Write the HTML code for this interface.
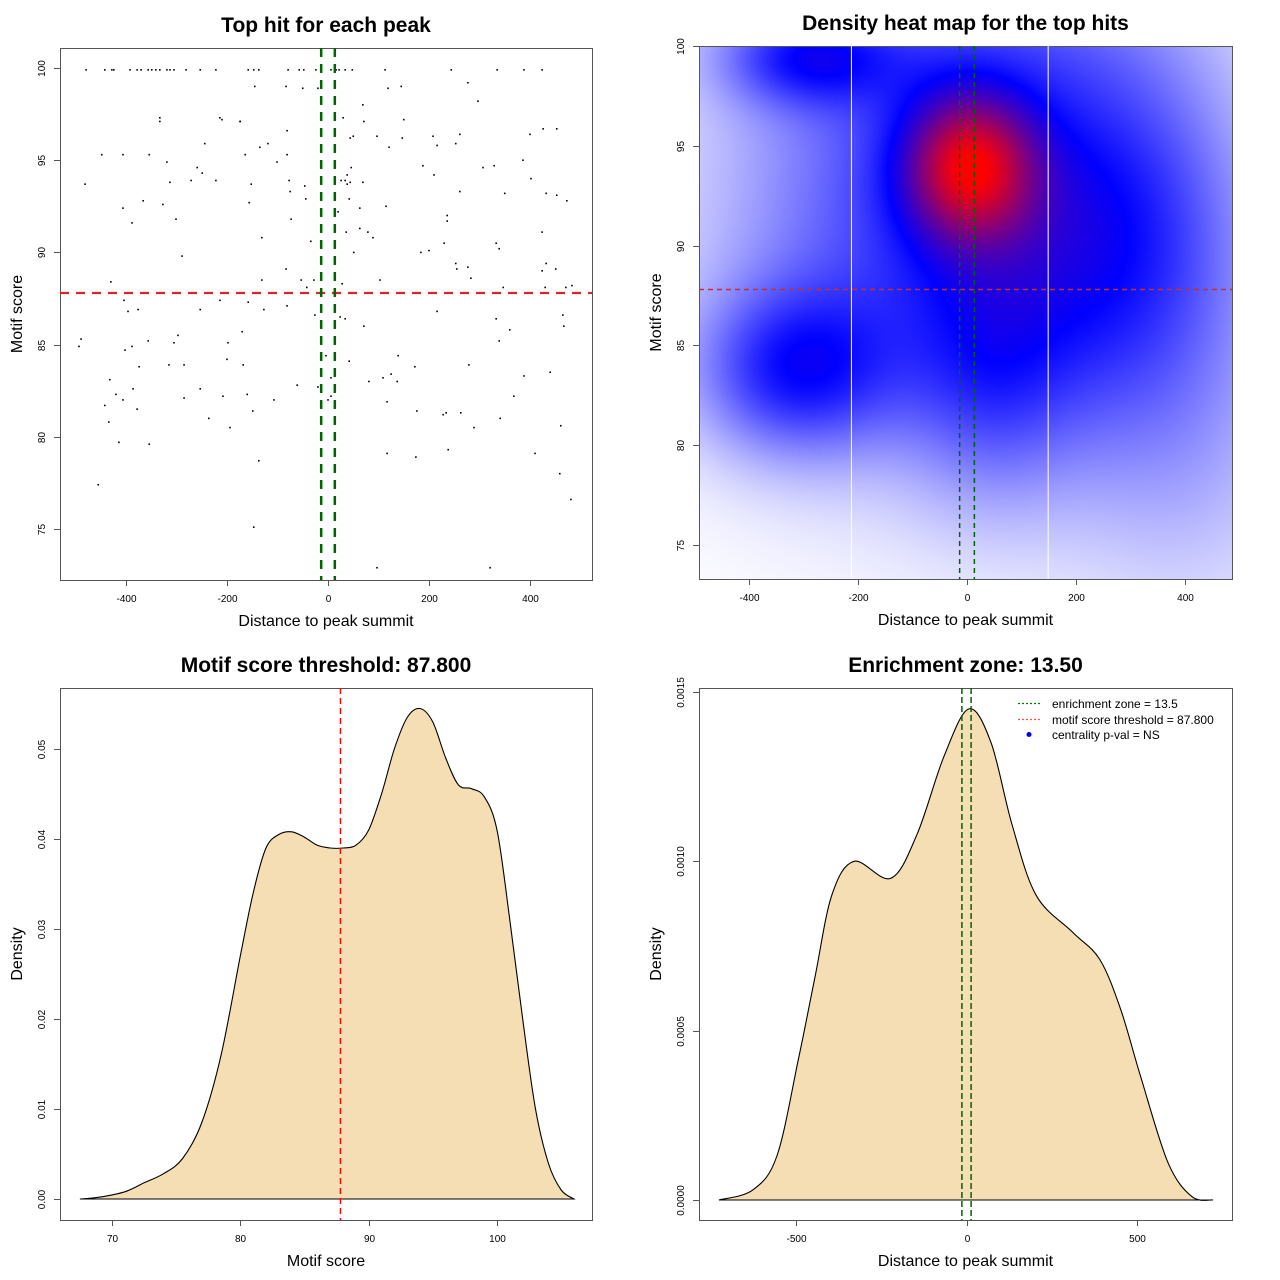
<!DOCTYPE html>
<html><head><meta charset="utf-8">
<style>
html,body{margin:0;padding:0;background:#fff;width:1280px;height:1280px;overflow:hidden}
#heat{position:absolute;left:699px;top:46px;z-index:0}
#root{position:absolute;left:0;top:0;z-index:1}
text{font-family:"Liberation Sans",Arial,sans-serif}
</style></head>
<body>
<canvas id="heat" width="533" height="533"></canvas>
<svg id="root" width="1280" height="1280" xmlns="http://www.w3.org/2000/svg"></svg>
<script>
// ---------- DATA ----------
const topRowX = [-479,-442,-428,-424,-392,-378,-370,-356,-349,-341,-333,-319,-313,-305,-281,-253,-222,-158,-147,-137,-79,-57,-48,-24,6,16,22,34,48,113,244,335,388,424];
const hitX = [-145,-83,-50,-20,-333,-214,-174,-81,-448,-406,-354,-481,-319,-259,-249,-271,-222,-313,-366,-327,-406,-388,-301,-244,-210,-174,-333,-135,-119,-164,-101,-81,-152,-77,-75,-46,-44,-156,-73,-131,-34,-289,-83,-131,-53,-28,-430,-42,
 -404,-396,-376,-253,-214,-158,-127,-81,-26,-489,-493,-402,-388,-356,-297,-305,-198,-170,-374,-315,-285,-200,-168,-432,-420,-406,-386,-285,-253,-208,-160,-107,-61,-20,-442,-378,-149,-236,-434,-194,-414,-354,-137,-455,-147,
 119,145,277,297,69,30,71,150,426,453,44,50,97,147,208,261,400,121,216,253,386,46,188,307,329,402,38,210,26,34,44,69,38,261,350,432,453,473,42,63,115,20,236,236,36,63,79,89,424,51,184,200,230,333,339,253,255,277,432,424,451,283,103,28,347,430,471,483,307,
 216,24,34,333,465,467,71,360,339,-4,42,139,172,279,440,125,109,137,81,388,6,368,0,6,117,176,228,234,263,341,461,289,117,174,238,410,459,481,97,321];
const hitY = [99.0,99.0,98.9,98.9,97.1,97.3,97.1,96.6,95.3,95.3,95.3,93.7,94.9,94.6,94.3,93.9,93.9,93.8,92.8,92.6,92.4,91.6,91.8,95.9,97.2,97.1,97.3,95.7,95.9,95.3,94.9,95.3,93.7,93.9,93.3,93.6,92.9,92.7,91.8,90.8,90.6,89.8,89.1,88.5,88.5,88.5,88.4,88.1,
 87.4,86.8,86.9,86.9,87.4,87.3,86.9,87.1,86.6,85.3,84.9,84.7,84.9,85.2,85.5,85.1,85.1,85.7,83.8,83.9,83.9,84.2,83.9,83.1,82.3,82.0,82.6,82.1,82.6,82.2,82.3,82.0,82.8,82.7,81.7,81.5,81.4,81.0,80.8,80.5,79.7,79.6,78.7,77.4,75.1,
 98.9,99.0,99.2,98.2,98.0,97.3,97.1,97.2,96.7,96.7,96.2,96.3,96.3,96.2,96.3,96.4,96.4,95.7,95.8,95.9,95.0,94.6,94.7,94.6,94.7,94.0,94.2,94.2,93.9,93.9,93.8,93.8,93.7,93.3,93.2,93.2,93.1,92.8,92.9,92.4,92.5,92.2,92.0,91.7,91.1,91.3,91.1,90.8,91.1,90.0,90.0,90.1,90.5,90.5,90.2,89.4,89.1,89.2,89.4,89.0,89.1,88.6,88.5,88.3,88.1,88.1,88.1,88.2,87.8,
 86.8,86.5,86.4,86.4,86.6,86.0,86.0,85.8,85.2,84.4,84.1,84.4,83.8,83.9,83.5,83.4,83.2,83.0,83.0,83.3,83.2,82.2,82.0,82.2,81.9,81.4,81.2,81.3,81.3,81.0,80.6,80.5,79.1,78.9,79.3,79.1,78.0,76.6,72.9,72.9];
const topRowY = 99.9;
const scoreThreshold = 87.8;
const enrichZone = 13.5;

const scoreX = [67.5,69,71,72.5,74,75.5,77,78.5,80,81,82,83,84,85,86,87,88,89,90,91,92,93,94,95,96,97,98,99,100,101,102,103,104,105,106];
const scoreD = [0,0.0002,0.0008,0.0018,0.0028,0.0045,0.0085,0.016,0.027,0.034,0.039,0.0405,0.0408,0.0402,0.0393,0.039,0.039,0.0393,0.041,0.045,0.050,0.0535,0.0545,0.053,0.049,0.046,0.0456,0.0447,0.041,0.031,0.020,0.010,0.004,0.001,0];

const distX = [-726,-626,-556,-494,-444,-395,-330,-222,-145,-66,7,72,133,204,312,391,453,512,591,661,723];
const distD = [0,0.00003,0.00013,0.00041,0.00066,0.00090,0.00100,0.00095,0.00108,0.00131,0.00145,0.00135,0.00111,0.00090,0.00079,0.00071,0.00056,0.00036,0.00011,0.00001,0];

const ticksTL_X = [-400,-200,0,200,400];
const ticksTL_Y = [75,80,85,90,95,100];
const ticksBL_X = [70,80,90,100];
const ticksBL_Y = [0,0.01,0.02,0.03,0.04,0.05];
const ticksBR_X = [-500,0,500];
const ticksBR_Y = [0,0.0005,0.001,0.0015];
const ticksBR_YLab = ["0.0000","0.0005","0.0010","0.0015"];
const ticksBL_YLab = ["0.00","0.01","0.02","0.03","0.04","0.05"];
const heatGridX = [-213,148];

// ---------- HELPERS ----------
const NS="http://www.w3.org/2000/svg";
const root=document.getElementById('root');
function el(tag,attrs,parent){const e=document.createElementNS(NS,tag);for(const k in attrs)e.setAttribute(k,attrs[k]);(parent||root).appendChild(e);return e;}
function lin(d0,d1,p0,p1){return v=>p0+(v-d0)*(p1-p0)/(d1-d0);}
function txt(s,x,y,size,opts,parent){const t=el('text',Object.assign({x:x,y:y,'font-size':size,'text-anchor':'middle',fill:'#000'},opts||{}),parent);t.textContent=s;return t;}

function panel(name,box,sx,sy,xt,yt,ylabs,title,xlab,ylab){
  const g=el('g',{});
  
  
  const fr=el('rect',{x:box.l+0.5,y:box.t+0.5,width:box.r-box.l,height:box.b-box.t,fill:'none',stroke:'#555','stroke-width':1},g);
  
  const xa=el('g',{},g);
  xt.forEach(v=>{const x=Math.round(sx(v))+0.5;el('line',{x1:x,x2:x,y1:box.b,y2:box.b+6,stroke:'#555'},xa);
    const t=txt(String(v),x,box.b+22,10,{},xa);});
  const ya=el('g',{},g);
  yt.forEach((v,i)=>{const y=Math.round(sy(v))+0.5;el('line',{x1:box.l-6,x2:box.l,y1:y,y2:y,stroke:'#555'},ya);
    const lx=box.l-15;const t=txt(ylabs?ylabs[i]:String(v),lx,y,10,{transform:`rotate(-90 ${lx} ${y})`},ya);
    });
  const cx=(box.l+box.r)/2;
  const tt=txt(title,cx,box.t-16,21,{'font-weight':'bold'},g);
  const xl=txt(xlab,cx,box.b+46,16,{},g);
  const cy=(box.t+box.b)/2;const yx=box.l-38;
  const yl=txt(ylab,yx,cy,16,{transform:`rotate(-90 ${yx} ${cy})`},g);
  return g;
}
function smoothPath(pts){let d=`M${pts[0][0]},${pts[0][1]}`;
  for(let i=0;i<pts.length-1;i++){const p0=pts[Math.max(0,i-1)],p1=pts[i],p2=pts[i+1],p3=pts[Math.min(pts.length-1,i+2)];
    const c1=[p1[0]+(p2[0]-p0[0])/6,p1[1]+(p2[1]-p0[1])/6],c2=[p2[0]-(p3[0]-p1[0])/6,p2[1]-(p3[1]-p1[1])/6];
    d+=` C${c1[0].toFixed(1)},${c1[1].toFixed(1)} ${c2[0].toFixed(1)},${c2[1].toFixed(1)} ${p2[0].toFixed(1)},${p2[1].toFixed(1)}`;}
  return d;}

// ---------- PANEL 1: scatter ----------
const b1={l:60,r:592,t:48,b:580};
const sx1=lin(0,400,328,530), sy1=lin(75,100,529,68);
const g1=panel('top-hit-scatter',b1,sx1,sy1,ticksTL_X,ticksTL_Y,null,'Top hit for each peak','Distance to peak summit','Motif score');
const pts1=el('g',{},g1);
topRowX.forEach(v=>{const r=el('rect',{x:sx1(v)-0.8,y:sy1(topRowY)-0.8,width:1.6,height:1.6,fill:'#000'},pts1);
  });
hitX.forEach((v,i)=>{const r=el('rect',{x:sx1(v)-0.8,y:sy1(hitY[i])-0.8,width:1.6,height:1.6,fill:'#000'},pts1);
  });
let l;
l=el('line',{x1:b1.l,x2:b1.r,y1:sy1(scoreThreshold),y2:sy1(scoreThreshold),stroke:'#d62728','stroke-width':2.2,'stroke-dasharray':'9,7'},g1);

[-enrichZone,enrichZone].forEach(v=>{const q=el('line',{x1:sx1(v),x2:sx1(v),y1:b1.t,y2:b1.b,stroke:'#006400','stroke-width':2.5,'stroke-dasharray':'9,7'},g1);
  });

// ---------- PANEL 2: heatmap ----------
const b2={l:699,r:1232,t:46,b:579};
const sx2=lin(0,400,967,1185), sy2=lin(75,100,545,46);
const g2=panel('density-heatmap-panel',b2,sx2,sy2,ticksTL_X,ticksTL_Y,null,'Density heat map for the top hits','Distance to peak summit','Motif score');
// heat field blobs (panel-relative smoothing kernels)
const blobs=[[270,119,46,52,0.55],[260,150,160,170,0.42],[430,200,90,140,0.25],[95,325,70,60,0.36],[105,10,60,35,0.3],[250,0,150,40,0.05],[290,335,60,90,0.18],[500,420,90,120,0.1]];
(function(){const c=document.getElementById('heat').getContext('2d');const W=533,H=533;const im=c.createImageData(W,H);
  for(let y=0;y<H;y++)for(let x=0;x<W;x++){let f=0;for(const b of blobs){const dx=(x-b[0])/b[2],dy=(y-b[1])/b[3];f+=b[4]*Math.exp(-0.5*(dx*dx+dy*dy));}
    f=Math.min(1,f);let r,g,bl;if(f<=0.5){const k=f/0.5;r=g=255*(1-k);bl=255;}else{const k=(f-0.5)/0.5;r=255*k;g=0;bl=255*(1-k);}
    const i=(y*W+x)*4;im.data[i]=r;im.data[i+1]=g;im.data[i+2]=bl;im.data[i+3]=255;}
  c.putImageData(im,0,0);})();
heatGridX.forEach(v=>{const q=el('line',{x1:sx2(v)+0.5,x2:sx2(v)+0.5,y1:b2.t,y2:b2.b,stroke:'#fff','stroke-width':1},g2);
  });
l=el('line',{x1:b2.l,x2:b2.r,y1:sy2(scoreThreshold),y2:sy2(scoreThreshold),stroke:'#c03030','stroke-width':1.5,'stroke-dasharray':'5,4'},g2);

[-enrichZone,enrichZone].forEach(v=>{const q=el('line',{x1:sx2(v),x2:sx2(v),y1:b2.t,y2:b2.b,stroke:'#006400','stroke-width':1.5,'stroke-dasharray':'5,4'},g2);
  });

// ---------- PANEL 3: motif score density ----------
const b3={l:60,r:592,t:688,b:1220};
const sx3=lin(70,100,112,497), sy3=lin(0,0.05,1199,749);
const g3=panel('motif-score-density',b3,sx3,sy3,ticksBL_X,ticksBL_Y,ticksBL_YLab,'Motif score threshold: 87.800','Motif score','Density');
let p3=scoreX.map((v,i)=>[sx3(v),sy3(scoreD[i])]);
l=el('path',{d:smoothPath(p3)+' Z',fill:'#f5deb3',stroke:'#000','stroke-width':1.1},g3);

l=el('line',{x1:sx3(scoreThreshold),x2:sx3(scoreThreshold),y1:b3.t,y2:b3.b,stroke:'#ff0000','stroke-width':1.4,'stroke-dasharray':'6,4'},g3);


// ---------- PANEL 4: distance density ----------
const b4={l:699,r:1232,t:688,b:1220};
const sx4=lin(-500,500,796,1137), sy4=lin(0,0.0015,1200,692);
const g4=panel('distance-density',b4,sx4,sy4,ticksBR_X,ticksBR_Y,ticksBR_YLab,'Enrichment zone: 13.50','Distance to peak summit','Density');
let p4=distX.map((v,i)=>[sx4(v),sy4(distD[i])]);
l=el('path',{d:smoothPath(p4)+' Z',fill:'#f5deb3',stroke:'#000','stroke-width':1.1},g4);

[-enrichZone,enrichZone].forEach(v=>{const q=el('line',{x1:sx4(v),x2:sx4(v),y1:b4.t,y2:b4.b,stroke:'#006400','stroke-width':1.5,'stroke-dasharray':'6,3'},g4);
  });
// legend
const lg=el('g',{},g4);
let e;
e=el('line',{x1:1018,x2:1042,y1:703.5,y2:703.5,stroke:'#008000','stroke-width':1.3,'stroke-dasharray':'2,2'},lg);
e=txt('enrichment zone = 13.5',1052,708,12,{'text-anchor':'start'},lg);
e=el('line',{x1:1018,x2:1042,y1:719.5,y2:719.5,stroke:'#ff5050','stroke-width':1.3,'stroke-dasharray':'2,2'},lg);
e=txt('motif score threshold = 87.800',1052,724,12,{'text-anchor':'start'},lg);
e=el('circle',{cx:1029,cy:734.5,r:2.5,fill:'#0000ff'},lg);
e=txt('centrality p-val = NS',1052,739,12,{'text-anchor':'start'},lg);
</script>
</body></html>
